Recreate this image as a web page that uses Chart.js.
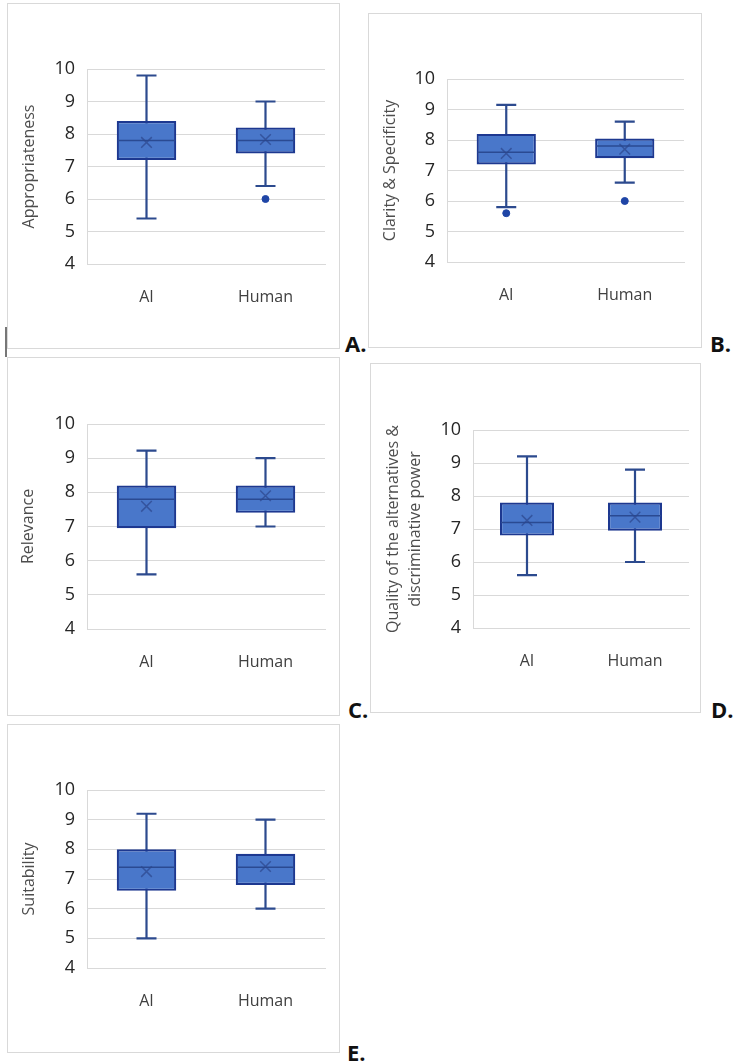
<!DOCTYPE html>
<html>
<head>
<meta charset="utf-8">
<script src="https://cdn.jsdelivr.net/npm/chart.js@4.4.1/dist/chart.umd.min.js"></script>
<style>
  html, body { margin: 0; padding: 0; background: #fff; }
  body { width: 733px; height: 1064px; position: relative; overflow: hidden; font-family: "Open Sans", sans-serif; }
  .frame { position: absolute; box-sizing: border-box; border: 1px solid #d9d9d9; pointer-events: none; }
  .panel { position: absolute; }
  .letter { position: absolute; font: bold 22px "Open Sans", sans-serif; line-height: 22px; color: #111; }
  .mark { position: absolute; background: #777; }
</style>
</head>
<body>
<script>
// values (one entry per panel, [AI, Human])
const categories = ['AI', 'Human'];
const metricTitles = [
    'Appropriateness',
    'Clarity & Specificity',
    'Relevance',
    ['Quality of the alternatives &', 'discriminative power'],
    'Suitability'
];
const panelLetters = ['A.', 'B.', 'C.', 'D.', 'E.'];
const whiskerMin = [[5.4, 6.4], [5.8, 6.6], [5.6, 7.0], [5.6, 6.0], [5.0, 6.0]];
const q1 = [[7.2, 7.4], [7.2, 7.4], [6.95, 7.4], [6.8, 6.95], [6.6, 6.8]];
const median = [[7.8, 7.8], [7.6, 7.8], [7.8, 7.8], [7.2, 7.4], [7.4, 7.4]];
const q3 = [[8.4, 8.2], [8.2, 8.05], [8.2, 8.2], [7.8, 7.8], [8.0, 7.85]];
const whiskerMax = [[9.8, 9.0], [9.15, 8.6], [9.22, 9.0], [9.2, 8.8], [9.2, 9.0]];
const means = [[7.74, 7.83], [7.56, 7.7], [7.59, 7.9], [7.26, 7.36], [7.25, 7.42]];
const outliers = [[null, 6.0], [5.6, 6.0], [null, null], [null, null], [null, null]];
const yMin = 4, yMax = 10, yStep = 1;

// page layout: frame box, plot box, title centre, letter position
const layout = [
    { frame: [7, 3, 340, 349],    plot: [87, 69, 325, 264],   titleX: 29, lineH: 1.2,   letter: [345, 351] },
    { frame: [368, 13, 702, 348], plot: [447, 79, 684, 262],  titleX: 390, lineH: 1.2,  letter: [710, 351] },
    { frame: [7, 357, 340, 716],  plot: [87, 424, 325, 629],  titleX: 28, lineH: 1.2,   letter: [348, 717] },
    { frame: [370, 363, 701, 713], plot: [473, 430, 689, 628], titleX: 393, lineH: 1.375, letter: [711, 717] },
    { frame: [7, 724, 340, 1053], plot: [87, 790, 325, 968],  titleX: 29, lineH: 1.2,   letter: [347, 1060] }
];

const FONT = '"Open Sans", sans-serif';
const X_AXIS_H = 40;

function makeBoxPlugin(p) {
    return {
        id: 'boxplot' + p,
        beforeDatasetsDraw(chart) {
            const ctx = chart.ctx;
            const x = chart.scales.x, y = chart.scales.y;
            ctx.save();
            ctx.strokeStyle = '#2c4a8e';
            ctx.lineWidth = 2.2;
            categories.forEach((c, i) => {
                const cx = x.getPixelForValue(i);
                const yLo = y.getPixelForValue(whiskerMin[p][i]);
                const yHi = y.getPixelForValue(whiskerMax[p][i]);
                ctx.beginPath();
                ctx.moveTo(cx, yLo);
                ctx.lineTo(cx, yHi);
                ctx.moveTo(cx - 10, yLo);
                ctx.lineTo(cx + 10, yLo);
                ctx.moveTo(cx - 10, yHi);
                ctx.lineTo(cx + 10, yHi);
                ctx.stroke();
            });
            ctx.restore();
        },
        afterDatasetDraw(chart, args) {
            if (args.index !== 0) return;
            const ctx = chart.ctx;
            const y = chart.scales.y;
            const bars = chart.getDatasetMeta(0).data;
            ctx.save();
            ctx.strokeStyle = '#2a4a92';
            ctx.lineWidth = 1.5;
            bars.forEach((bar, i) => {
                const my = y.getPixelForValue(median[p][i]);
                ctx.beginPath();
                ctx.moveTo(bar.x - bar.width / 2 + 1, my);
                ctx.lineTo(bar.x + bar.width / 2 - 1, my);
                ctx.stroke();
            });
            ctx.restore();
        }
    };
}

layout.forEach((L, p) => {
    const [fl, ft, fr, fb] = L.frame;
    const [pl, pt, pr, pb] = L.plot;
    const w = fr - fl, h = fb - ft;

    const holder = document.createElement('div');
    holder.className = 'panel';
    holder.style.cssText = `left:${fl}px;top:${ft}px;width:${w}px;height:${h}px;`;
    const canvas = document.createElement('canvas');
    canvas.width = w;
    canvas.height = h;
    holder.appendChild(canvas);
    document.body.appendChild(holder);

    const frame = document.createElement('div');
    frame.className = 'frame';
    frame.style.cssText = `left:${fl}px;top:${ft}px;width:${w}px;height:${h}px;`;
    document.body.appendChild(frame);

    const letter = document.createElement('div');
    letter.className = 'letter';
    letter.textContent = panelLetters[p];
    letter.style.left = L.letter[0] + 'px';
    letter.style.top = (L.letter[1] - 19.5) + 'px';
    document.body.appendChild(letter);

    const titleFont = 16;
    const titlePad = (L.titleX - fl) - titleFont * L.lineH / 2;

    new Chart(canvas.getContext('2d'), {
        type: 'bar',
        data: {
            labels: categories,
            datasets: [
                {
                    type: 'bar',
                    data: categories.map((c, i) => [q1[p][i], q3[p][i]]),
                    backgroundColor: '#4977ca',
                    borderColor: '#1d3890',
                    borderWidth: 2.2,
                    borderSkipped: false,
                    barPercentage: 0.5,
                    categoryPercentage: 1,
                    order: 3
                },
                {
                    type: 'line',
                    data: outliers[p],
                    showLine: false,
                    pointStyle: 'circle',
                    pointRadius: 3.5,
                    pointBackgroundColor: '#1f45a6',
                    pointBorderColor: '#1f45a6',
                    order: 2
                },
                {
                    type: 'line',
                    data: means[p],
                    showLine: false,
                    pointStyle: 'crossRot',
                    pointRadius: 7.5,
                    pointBorderWidth: 1.5,
                    pointBorderColor: 'rgba(44, 70, 140, 0.7)',
                    order: 1
                }
            ]
        },
        options: {
            responsive: false,
            animation: false,
            events: [],
            layout: {
                padding: { left: 0, top: pt - ft, right: fr - pr, bottom: fb - pb - X_AXIS_H }
            },
            plugins: {
                legend: { display: false },
                tooltip: { enabled: false }
            },
            scales: {
                x: {
                    grid: { display: false },
                    border: { display: true, color: '#d9d9d9' },
                    ticks: { color: '#404040', padding: 16, font: { family: FONT, size: 16 } },
                    afterFit: (s) => { s.height = X_AXIS_H; }
                },
                y: {
                    min: yMin,
                    max: yMax,
                    grid: { color: '#d9d9d9', drawTicks: false },
                    border: { display: true, color: '#d9d9d9' },
                    ticks: { stepSize: yStep, color: '#262626', padding: 12, font: { family: FONT, size: 18 } },
                    title: {
                        display: true,
                        text: metricTitles[p],
                        color: '#4d4d4d',
                        font: { family: FONT, size: titleFont, lineHeight: L.lineH },
                        padding: { top: titlePad, bottom: 0 }
                    },
                    afterFit: (s) => { s.width = pl - fl; }
                }
            }
        },
        plugins: [makeBoxPlugin(p)]
    });
});

// small dark scan mark left of panel A's lower corner
const mark = document.createElement('div');
mark.className = 'mark';
mark.style.cssText = 'left:5px;top:327px;width:2px;height:30px;';
document.body.appendChild(mark);
</script>
</body>
</html>
